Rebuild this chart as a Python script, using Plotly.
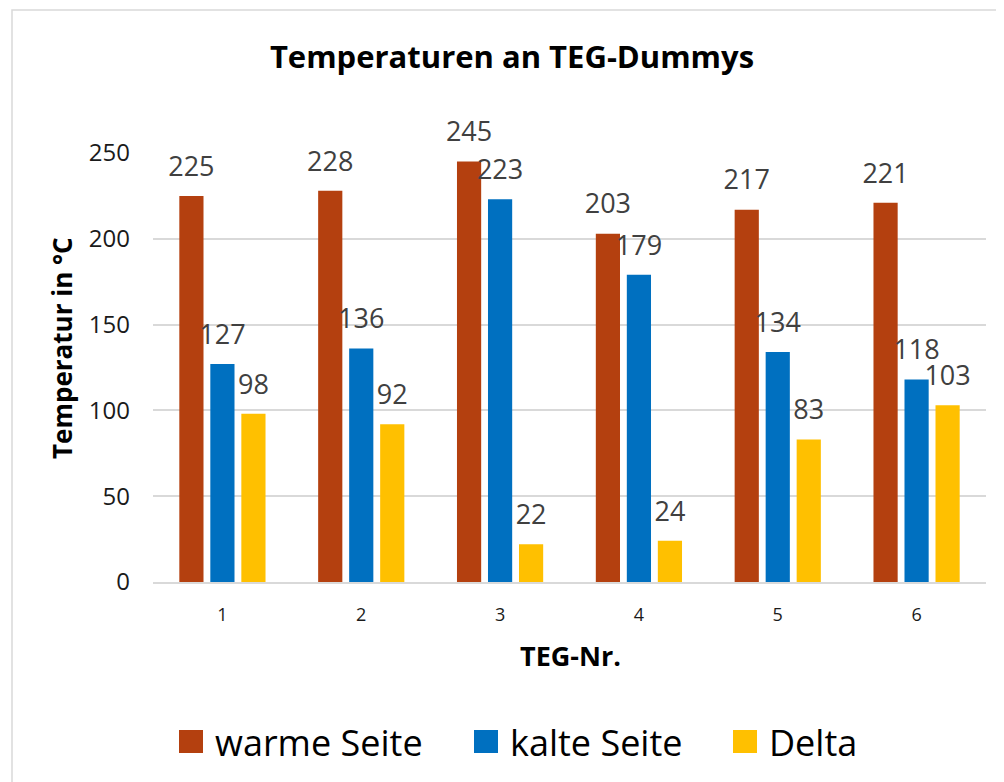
import plotly.graph_objects as go

categories = ["1", "2", "3", "4", "5", "6"]
warme = [225, 228, 245, 203, 217, 221]
kalte = [127, 136, 223, 179, 134, 118]
delta = [98, 92, 22, 24, 83, 103]
series_names = ["warme Seite", "kalte Seite", "Delta"]
colors = ["#B4400F", "#0070C0", "#FFC000"]
y_ticks = [0, 50, 100, 150, 200, 250]

FONT = "Open Sans"
OFF = 8                      # page body margin
W, H = 1004 - OFF, 782 - OFF
# plot area in reference-pixel terms
PL, PR, PT, PB = 153, 986, 153, 582
L, T = PL - OFF, PT - OFF
R, B = W - (PR - OFF), H - (PB - OFF)
pw, ph = PR - PL, PB - PT

def px(x):  # reference pixel x -> paper
    return (x - PL) / pw
def py(y):  # reference pixel y -> paper
    return (PB - y) / ph

BARGAP = 0.33
fig = go.Figure()
for name, vals, col in zip(series_names, [warme, kalte, delta], colors):
    fig.add_trace(go.Bar(x=categories, y=vals, name=name, marker_color=col,
                         marker_line_width=0, showlegend=False))
for name, vals in zip(series_names, [warme, kalte, delta]):
    fig.add_trace(go.Scatter(
        x=categories, y=vals, mode="markers+text", name=name + " labels",
        marker=dict(size=20, opacity=0), text=[str(v) for v in vals],
        textposition="top center", textfont=dict(family=FONT, size=27, color="#404040"),
        cliponaxis=False, showlegend=False, hoverinfo="skip"))

# custom legend (squares + text)
legend_sq_x = [179, 474, 733]
shapes = [dict(type="rect", xref="paper", yref="paper", x0=px(12), y0=py(800),
               x1=px(1020), y1=py(10), line=dict(color="#d9d9d9", width=1.5),
               fillcolor="rgba(0,0,0,0)", layer="below")]
annotations = []
for name, col, sx in zip(series_names, colors, legend_sq_x):
    shapes.append(dict(type="rect", xref="paper", yref="paper", x0=px(sx), x1=px(sx + 24),
                       y0=py(753), y1=py(730), fillcolor=col, line=dict(width=0)))
    annotations.append(dict(text=name, xref="paper", yref="paper", x=px(sx + 34), y=py(742),
                            xanchor="left", yanchor="middle", showarrow=False,
                            font=dict(family=FONT, size=36, color="black")))
annotations.append(dict(text="<b>Temperatur in °C</b>", xref="paper", yref="paper",
                        x=px(62), y=py(348), textangle=-90, showarrow=False,
                        xanchor="center", yanchor="middle",
                        font=dict(family=FONT, size=26, color="black")))
annotations.append(dict(text="<b>TEG-Nr.</b>", xref="paper", yref="paper",
                        x=px(570), y=py(655), showarrow=False,
                        xanchor="center", yanchor="middle",
                        font=dict(family=FONT, size=27, color="black")))

fig.update_layout(
    width=W, height=H,
    margin=dict(l=L, r=R, t=T, b=B),
    paper_bgcolor="white", plot_bgcolor="white",
    barmode="group", bargap=BARGAP, bargroupgap=0.22,
    scattermode="group", scattergap=BARGAP,
    title=dict(text="<b>Temperaturen an TEG-Dummys</b>", x=(512 - OFF) / W, xanchor="center",
               y=1 - (57 - OFF) / H, yanchor="middle",
               font=dict(family=FONT, size=31, color="black")),
    font=dict(family=FONT),
    showlegend=False,
    xaxis=dict(type="category", showgrid=False, showline=True, linecolor="#d9d9d9",
               linewidth=1.5, ticks="", tickfont=dict(family=FONT, size=18, color="#1a1a1a"),
               ticklabelstandoff=16),
    yaxis=dict(range=[0, 250], tickvals=y_ticks, showgrid=True, gridcolor="#d9d9d9",
               gridwidth=1.5, zeroline=False, showline=False, ticks="",
               tickfont=dict(family=FONT, size=24, color="#1a1a1a"), ticklabelstandoff=22),
    shapes=shapes,
    annotations=annotations,
)

fig.write_html("out.html")
